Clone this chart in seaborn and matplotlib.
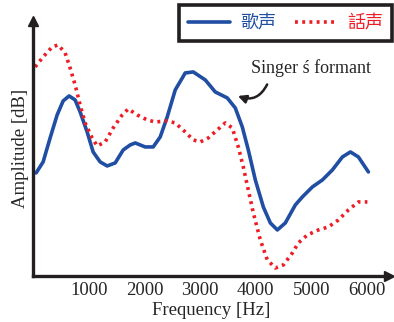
import numpy as np
import pandas as pd
import seaborn as sns
import matplotlib.pyplot as plt

# values (frequency in Hz, amplitude in arbitrary units)
singing_freq = [54, 180, 306, 432, 540, 647, 755, 845, 971, 1079, 1205, 1331,
                1475, 1619, 1745, 1835, 2014, 2158, 2284, 2410, 2554, 2734, 2878,
                3094, 3273, 3489, 3633, 3759, 3867, 3993, 4137, 4263, 4389, 4532,
                4712, 4838, 5018, 5198, 5378, 5558, 5702, 5845, 6025]
singing_amp = [103, 114, 138, 161, 175, 180, 176, 164, 144, 124, 114, 110,
               113, 126, 131, 133, 129, 129, 139, 159, 186, 203, 204,
               196, 184, 178, 168, 149, 126, 96, 69, 53, 46, 53,
               71, 79, 89, 96, 106, 119, 124, 119, 104]

speech_freq = [36, 180, 342, 450, 576, 665, 755, 845, 935, 1061, 1151, 1295,
               1439, 1601, 1709, 1871, 2050, 2194, 2410, 2554, 2734, 2878, 3004,
               3148, 3309, 3453, 3579, 3687, 3777, 3867, 3957, 4083, 4209, 4353,
               4497, 4658, 4766, 4928, 5126, 5306, 5486, 5666, 5845, 6007]
speech_amp = [209, 219, 229, 231, 223, 208, 191, 171, 153, 138, 130, 134,
              148, 161, 167, 161, 156, 154, 155, 153, 144, 136, 134,
              138, 146, 153, 148, 129, 109, 86, 63, 36, 16, 8,
              11, 23, 33, 41, 46, 49, 56, 66, 74, 74]

xticks = [1000, 2000, 3000, 4000, 5000, 6000]

sns.set_style("white")
plt.rcParams['font.family'] = ['Liberation Serif', 'Noto Sans CJK SC']

fig = plt.figure(figsize=(3.94, 3.22), dpi=100)
ax = fig.add_axes([0.084, 0.143, 0.904, 0.792])

sing = pd.DataFrame({"freq": singing_freq, "amp": singing_amp})
speak = pd.DataFrame({"freq": speech_freq, "amp": speech_amp})

sns.lineplot(data=sing, x="freq", y="amp", ax=ax, color="#1f4ea3", lw=2.6,
             label="歌声")
sns.lineplot(data=speak, x="freq", y="amp", ax=ax, color="#ee1c25", lw=2.6,
             linestyle=(0, (0.8, 1.2)), label="話声")

ax.set_xlim(0, 6400)
ax.set_ylim(0, 255)
for s in ["top", "right"]:
    ax.spines[s].set_visible(False)
for s in ["left", "bottom"]:
    ax.spines[s].set_linewidth(2.4)
    ax.spines[s].set_color("#231f20")
ax.plot(1.0, 0, ">", color="#231f20", ms=7, transform=ax.transAxes, clip_on=False)
ax.plot(0, 1.0, "^", color="#231f20", ms=7, transform=ax.transAxes, clip_on=False)

ax.set_xticks(xticks)
ax.set_xticklabels([str(t) for t in xticks])
ax.set_yticks([])
ax.tick_params(axis="x", direction="in", length=5, width=2.4, color="#231f20",
               labelsize=13.5, pad=4)
ax.set_xlabel("Frequency [Hz]", fontsize=13.5, labelpad=2.5)
ax.set_ylabel("Amplitude [dB]", fontsize=13.5, labelpad=3)

ax.text(5000, 208, "Singer ś formant", fontsize=13, ha="center", va="center")
ax.annotate("", xy=(3633, 181), xytext=(4227, 194),
            arrowprops=dict(arrowstyle="-|>", color="#231f20", lw=1.8,
                            connectionstyle="arc3,rad=-0.5", mutation_scale=12))

leg = ax.legend(loc="upper right", bbox_to_anchor=(392 / 394, 1 - 5 / 322),
                bbox_transform=fig.transFigure, borderaxespad=0,
                frameon=True, fancybox=False, ncol=2, handlelength=2.3,
                handletextpad=0.6, columnspacing=1.0, borderpad=0.5,
                prop={"family": "Noto Sans CJK SC", "size": 13})
leg.get_frame().set_edgecolor("#231f20")
leg.get_frame().set_linewidth(2.6)
leg.get_frame().set_alpha(1)
leg.texts[0].set_color("#1f4ea3")
leg.texts[1].set_color("#ee1c25")

plt.savefig("out.png", dpi=100)
